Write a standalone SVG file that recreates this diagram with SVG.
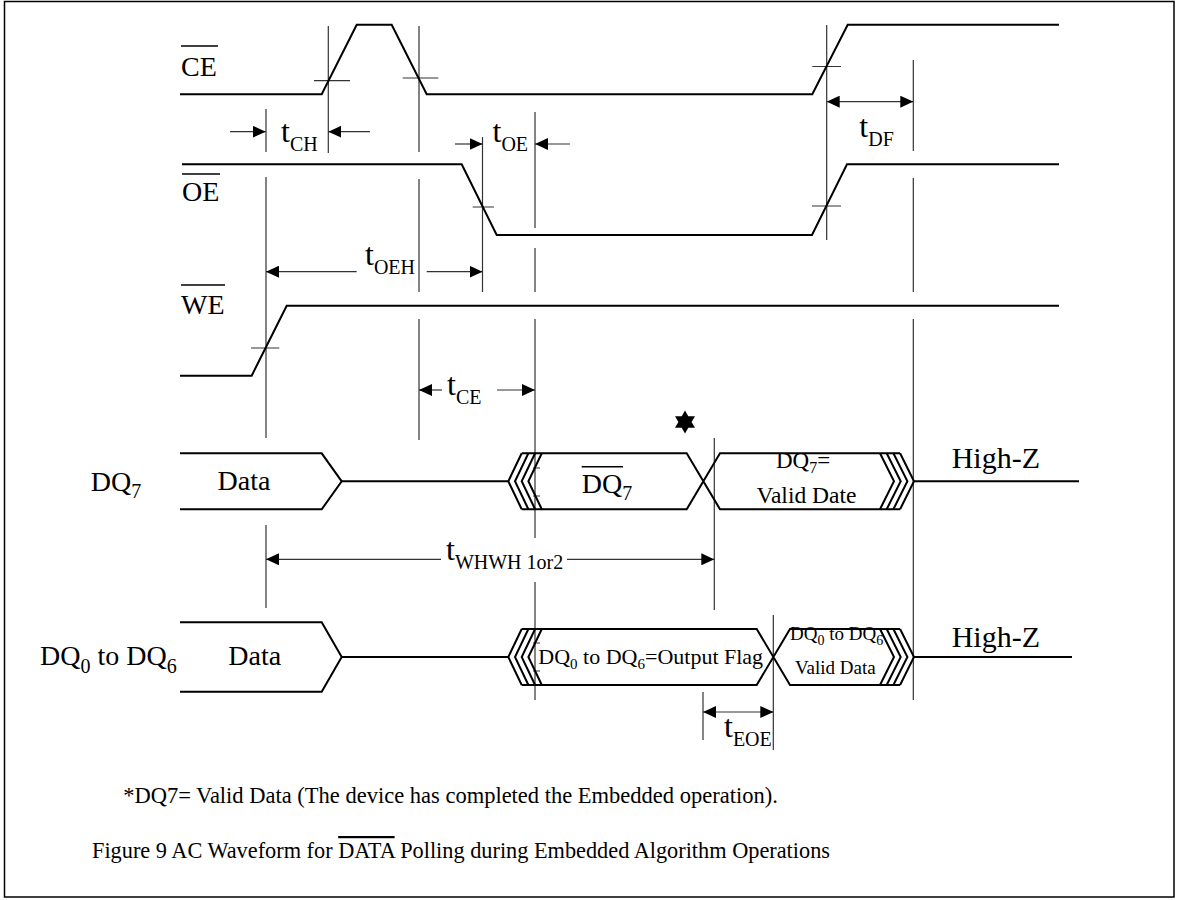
<svg xmlns="http://www.w3.org/2000/svg" width="1177" height="900" viewBox="0 0 1177 900">
<style>
.sig{fill:none;stroke:#000;stroke-width:2}
.g{stroke:#333;stroke-width:1.2;fill:none}
.ar{stroke:#333;stroke-width:1.2;fill:none}
.tx{font-family:"Liberation Serif","Times New Roman",serif;fill:#000}
</style>
<defs>
<marker id="ah" viewBox="0 0 13 12" refX="13" refY="6" markerWidth="13" markerHeight="12" markerUnits="userSpaceOnUse" orient="auto-start-reverse">
<path d="M0,0 L13,6 L0,12 z" fill="#000"/>
</marker>
</defs>
<rect x="4.5" y="1.5" width="1169.5" height="895.5" fill="#fff" stroke="#000" stroke-width="1.5"/>

<g id="guides">
<path class="g" d="M266,109V152 M266,177V438 M266,525V608"/>
<path class="g" d="M328.3,26V153"/>
<path class="g" d="M419,26V152 M419,179V292 M419,319V440"/>
<path class="g" d="M482.5,137V292"/>
<path class="g" d="M535,112V228 M535,248V292 M535,319V538 M535,582V700"/>
<path class="g" d="M714.3,438V610"/>
<path class="g" d="M826.7,25V240"/>
<path class="g" d="M913.3,60V151 M913.3,178V292 M913.3,319V700"/>
<path class="g" d="M773.3,615V750"/>
<path class="g" d="M703,692V740"/>
<path class="g" d="M314,80.7H350 M402.7,78H438.3 M812.3,66.5H841 M472.7,207H494 M812,206H841 M251,348H279.3"/>
<path class="g" d="M533,468H540 M533,496H540 M533,643H540 M533,671H540"/>
</g>

<g id="CE">
<polyline class="sig" points="180,94.3 321.7,94.3 356.7,24.7 391.7,24.7 426.7,94.3 812.3,94.3 847.7,24.7 1059,24.7"/>
<text class="tx" x="181" y="76" font-size="28">CE</text>
<line x1="181" y1="46" x2="218" y2="46" stroke="#000" stroke-width="1.5"/>
</g>
<g id="OE">
<polyline class="sig" points="182,164.3 461.7,164.3 496.7,235 812,235 847,164.3 1059,164.3"/>
<text class="tx" x="182" y="201" font-size="28">OE</text>
<line x1="182" y1="174" x2="220" y2="174" stroke="#000" stroke-width="1.5"/>
</g>
<g id="WE">
<polyline class="sig" points="180,375.7 251.7,375.7 286.7,305.7 1059,305.7"/>
<text class="tx" x="181" y="314" font-size="28">WE</text>
<line x1="181" y1="285" x2="225" y2="285" stroke="#000" stroke-width="1.5"/>
</g>

<g id="DQ7">
<text class="tx" x="90.7" y="491" font-size="28">DQ<tspan font-size="20" dy="7">7</tspan></text>
<polyline class="sig" points="180,453.3 321.7,453.3 341.7,481.3 321.7,509.3 180,509.3"/>
<text class="tx" x="244" y="490" font-size="28" text-anchor="middle">Data</text>
<line class="sig" x1="341.7" y1="481.3" x2="508.3" y2="481.3"/>
<path class="sig" d="M521.7,453.3L508.3,481.3L521.7,509.3 M528.4,453.3L515,481.3L528.4,509.3 M535.1,453.3L521.7,481.3L535.1,509.3 M541.8,453.3L528.4,481.3L541.8,509.3"/>
<path class="sig" d="M521.7,453.3H686.7L720,509.3H900 M521.7,509.3H686.7L720,453.3H900"/>
<path class="sig" d="M880,453.3L894,481.3L880,509.3 M886.7,453.3L900.7,481.3L886.7,509.3 M893.4,453.3L907.4,481.3L893.4,509.3 M900.1,453.3L914,481.3L900.1,509.3"/>
<line class="sig" x1="914" y1="481.3" x2="1079" y2="481.3"/>
<text class="tx" x="581.7" y="493" font-size="28">DQ<tspan font-size="20" dy="7">7</tspan></text>
<line x1="581.7" y1="466.7" x2="623" y2="466.7" stroke="#000" stroke-width="1.5"/>
<text class="tx" x="776" y="468" font-size="23">DQ<tspan font-size="16" dy="5">7</tspan><tspan dy="-5">=</tspan></text>
<text class="tx" x="806.5" y="503" font-size="23.5" text-anchor="middle">Valid Date</text>
<text class="tx" x="951.7" y="468" font-size="30">High-Z</text>
<path d="M685,410.5 L688.3,416.3 L695,416.3 L691.6,422 L695,427.7 L688.3,427.7 L685,433.5 L681.7,427.7 L675,427.7 L678.4,422 L675,416.3 L681.7,416.3 z" fill="#000"/>
</g>

<g id="DQ0to6">
<text class="tx" x="40" y="665" font-size="28">DQ<tspan font-size="20" dy="8">0</tspan><tspan dy="-8"> to DQ</tspan><tspan font-size="20" dy="8">6</tspan></text>
<polyline class="sig" points="180,622.3 321.7,622.3 341.7,657 321.7,691.7 180,691.7"/>
<text class="tx" x="228.3" y="665" font-size="28">Data</text>
<line class="sig" x1="341.7" y1="657" x2="508.3" y2="657"/>
<path class="sig" d="M521.7,629L508.3,657L521.7,685 M528.4,629L515,657L528.4,685 M535.1,629L521.7,657L535.1,685 M541.8,629L528.4,657L541.8,685"/>
<path class="sig" d="M521.7,629H756.7L790,685H900 M521.7,685H756.7L790,629H900"/>
<path class="sig" d="M880,629L894,657L880,685 M886.7,629L900.7,657L886.7,685 M893.4,629L907.4,657L893.4,685 M900.1,629L914,657L900.1,685"/>
<line class="sig" x1="914" y1="657" x2="1072" y2="657"/>
<text class="tx" x="538.3" y="664" font-size="22">DQ<tspan font-size="15" dy="5">0</tspan><tspan dy="-5"> to DQ</tspan><tspan font-size="15" dy="5">6</tspan><tspan dy="-5">=Output Flag</tspan></text>
<text class="tx" x="790" y="640" font-size="19">DQ<tspan font-size="14" dy="5">0</tspan><tspan dy="-5"> to DQ</tspan><tspan font-size="14" dy="5">6</tspan></text>
<text class="tx" x="795" y="674" font-size="19">Valid Data</text>
<text class="tx" x="951.7" y="646.7" font-size="30">High-Z</text>
</g>

<g id="timing">
<line class="ar" x1="230" y1="131.7" x2="265.7" y2="131.7" marker-end="url(#ah)"/>
<line class="ar" x1="370" y1="131.7" x2="328.3" y2="131.7" marker-end="url(#ah)"/>
<text class="tx" x="281" y="142" font-size="32">t<tspan font-size="20" dy="9">CH</tspan></text>
<line class="ar" x1="455" y1="144" x2="482.5" y2="144" marker-end="url(#ah)"/>
<line class="ar" x1="570" y1="144" x2="535" y2="144" marker-end="url(#ah)"/>
<text class="tx" x="492.5" y="142" font-size="32">t<tspan font-size="20" dy="9">OE</tspan></text>
<line class="ar" x1="826.7" y1="101.7" x2="913.3" y2="101.7" marker-start="url(#ah)" marker-end="url(#ah)"/>
<text class="tx" x="859.3" y="137" font-size="32">t<tspan font-size="20" dy="9">DF</tspan></text>
<line class="ar" x1="356.7" y1="271.7" x2="266" y2="271.7" marker-end="url(#ah)"/>
<line class="ar" x1="426.7" y1="271.7" x2="482.5" y2="271.7" marker-end="url(#ah)"/>
<text class="tx" x="365" y="265" font-size="32">t<tspan font-size="20" dy="9">OEH</tspan></text>
<line class="ar" x1="442" y1="390" x2="419" y2="390" marker-end="url(#ah)"/>
<line class="ar" x1="497" y1="390" x2="535" y2="390" marker-end="url(#ah)"/>
<text class="tx" x="447" y="395" font-size="32">t<tspan font-size="20" dy="9">CE</tspan></text>
<line class="ar" x1="441" y1="559.3" x2="266" y2="559.3" marker-end="url(#ah)"/>
<line class="ar" x1="567" y1="559.3" x2="714.3" y2="559.3" marker-end="url(#ah)"/>
<text class="tx" x="446" y="560" font-size="32">t<tspan font-size="20" dy="9">WHWH 1or2</tspan></text>
<line class="ar" x1="703" y1="712" x2="773.3" y2="712" marker-start="url(#ah)" marker-end="url(#ah)"/>
<text class="tx" x="724" y="737" font-size="32">t<tspan font-size="20" dy="9">EOE</tspan></text>
</g>

<g id="captions">
<text class="tx" x="450.5" y="803" font-size="22.5" text-anchor="middle">*DQ7= Valid Data (The device has completed the Embedded operation).</text>
<text class="tx" x="461" y="858" font-size="22.3" text-anchor="middle">Figure 9 AC Waveform for <tspan text-decoration="overline">DATA</tspan> Polling during Embedded Algorithm Operations</text>
</g>
</svg>
